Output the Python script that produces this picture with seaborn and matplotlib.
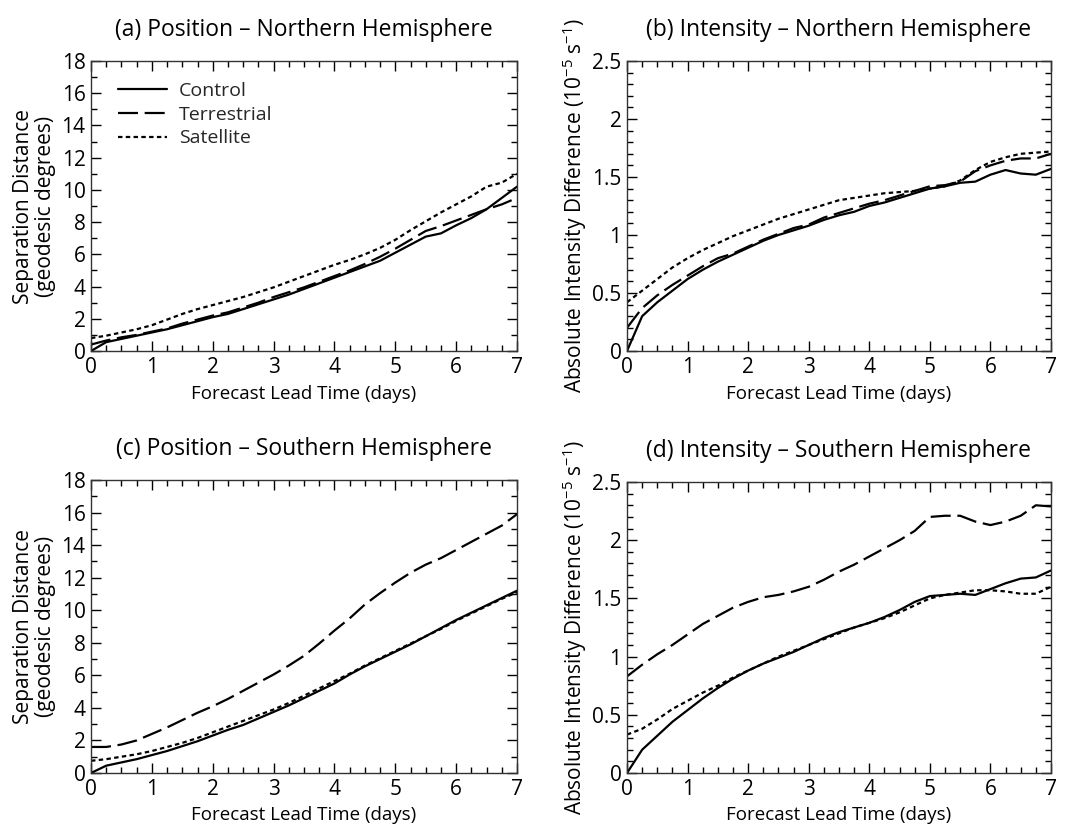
import numpy as np
import pandas as pd
import matplotlib
matplotlib.use("Agg")
import matplotlib.pyplot as plt
import seaborn as sns
from matplotlib.ticker import MultipleLocator

days = [i * 0.25 for i in range(29)]
series_names = ["Control", "Terrestrial", "Satellite"]

# (a) Position - Northern Hemisphere
pos_nh_control = [0, 0.55, 0.75, 0.95, 1.15, 1.35, 1.6, 1.85, 2.1, 2.3, 2.6, 2.9, 3.2, 3.5,
                  3.85, 4.2, 4.55, 4.9, 5.25, 5.6, 6.1, 6.6, 7.1, 7.3, 7.8, 8.25, 8.8, 9.5, 10.2]
pos_nh_terr = [0.4, 0.65, 0.85, 1.0, 1.2, 1.4, 1.7, 1.95, 2.2, 2.4, 2.7, 3.0, 3.35, 3.65,
               3.95, 4.3, 4.65, 5.0, 5.4, 5.85, 6.35, 6.9, 7.45, 7.75, 8.1, 8.45, 8.8, 9.1, 9.5]
pos_nh_sat = [0.8, 0.95, 1.15, 1.35, 1.6, 1.95, 2.3, 2.6, 2.85, 3.1, 3.35, 3.65, 3.95, 4.3,
              4.65, 5.0, 5.35, 5.65, 6.0, 6.4, 6.9, 7.5, 8.05, 8.6, 9.1, 9.6, 10.2, 10.45, 11.0]

# (b) Intensity - Northern Hemisphere
int_nh_control = [0, 0.3, 0.42, 0.52, 0.62, 0.70, 0.77, 0.83, 0.89, 0.95, 1.0, 1.04, 1.08, 1.13,
                  1.17, 1.20, 1.25, 1.28, 1.32, 1.36, 1.40, 1.42, 1.45, 1.46, 1.52, 1.56, 1.53, 1.52, 1.57]
int_nh_terr = [0.2, 0.37, 0.48, 0.57, 0.65, 0.73, 0.80, 0.84, 0.90, 0.96, 1.01, 1.06, 1.09, 1.15,
               1.19, 1.23, 1.27, 1.30, 1.34, 1.38, 1.42, 1.43, 1.46, 1.55, 1.60, 1.64, 1.66, 1.66, 1.70]
int_nh_sat = [0.42, 0.52, 0.62, 0.72, 0.80, 0.87, 0.93, 0.99, 1.04, 1.09, 1.14, 1.18, 1.22, 1.26,
              1.30, 1.32, 1.34, 1.36, 1.37, 1.38, 1.40, 1.42, 1.47, 1.56, 1.63, 1.67, 1.70, 1.71, 1.72]

# (c) Position - Southern Hemisphere
pos_sh_control = [0, 0.45, 0.65, 0.85, 1.1, 1.35, 1.65, 1.95, 2.3, 2.65, 2.95, 3.35, 3.75, 4.15,
                  4.6, 5.05, 5.5, 6.05, 6.55, 7.0, 7.45, 7.9, 8.4, 8.9, 9.4, 9.85, 10.3, 10.75, 11.2]
pos_sh_terr = [1.6, 1.6, 1.75, 2.0, 2.4, 2.8, 3.25, 3.7, 4.1, 4.55, 5.05, 5.55, 6.05, 6.6,
               7.2, 7.95, 8.75, 9.5, 10.35, 11.05, 11.7, 12.3, 12.8, 13.2, 13.7, 14.2, 14.7, 15.2, 15.9]
pos_sh_sat = [0.75, 0.85, 1.0, 1.15, 1.35, 1.6, 1.85, 2.15, 2.5, 2.85, 3.2, 3.55, 3.9, 4.3,
              4.75, 5.2, 5.65, 6.1, 6.6, 7.05, 7.5, 7.95, 8.4, 8.85, 9.35, 9.8, 10.25, 10.7, 11.1]

# (d) Intensity - Southern Hemisphere
int_sh_control = [0, 0.2, 0.32, 0.44, 0.54, 0.64, 0.73, 0.81, 0.88, 0.94, 0.99, 1.04, 1.10, 1.16,
                  1.21, 1.25, 1.29, 1.34, 1.40, 1.47, 1.52, 1.53, 1.54, 1.53, 1.58, 1.63, 1.67, 1.68, 1.74]
int_sh_terr = [0.83, 0.93, 1.02, 1.10, 1.19, 1.28, 1.35, 1.42, 1.47, 1.51, 1.53, 1.56, 1.60, 1.66,
               1.73, 1.79, 1.86, 1.93, 2.00, 2.08, 2.20, 2.21, 2.21, 2.16, 2.13, 2.16, 2.21, 2.30, 2.29]
int_sh_sat = [0.33, 0.38, 0.46, 0.55, 0.62, 0.69, 0.75, 0.82, 0.88, 0.94, 1.0, 1.05, 1.10, 1.15,
              1.20, 1.25, 1.29, 1.33, 1.38, 1.44, 1.50, 1.53, 1.55, 1.57, 1.57, 1.56, 1.54, 1.54, 1.60]

titles = ["(a) Position \u2013 Northern Hemisphere", "(b) Intensity \u2013 Northern Hemisphere",
          "(c) Position \u2013 Southern Hemisphere", "(d) Intensity \u2013 Southern Hemisphere"]
xlabel = "Forecast Lead Time (days)"
ylabel_pos = "Separation Distance\n(geodesic degrees)"
ylabel_int = "Absolute Intensity Difference (10$^{-5}$ s$^{-1}$)"

sns.set_theme(style="ticks")
plt.rcParams["font.family"] = ["Open Sans", "DejaVu Sans"]
plt.rcParams["mathtext.fontset"] = "custom"
plt.rcParams["mathtext.rm"] = "Open Sans"
plt.rcParams["mathtext.default"] = "regular"

def make_df(c, t, s):
    return pd.DataFrame({
        "day": days * 3,
        "value": c + t + s,
        "series": [n for n in series_names for _ in days],
    })

panels = [
    (make_df(pos_nh_control, pos_nh_terr, pos_nh_sat), 18, 2, 1, ylabel_pos, True),
    (make_df(int_nh_control, int_nh_terr, int_nh_sat), 2.5, 0.5, 0.1, ylabel_int, False),
    (make_df(pos_sh_control, pos_sh_terr, pos_sh_sat), 18, 2, 1, ylabel_pos, False),
    (make_df(int_sh_control, int_sh_terr, int_sh_sat), 2.5, 0.5, 0.1, ylabel_int, False),
]

dash_map = {"Control": "", "Terrestrial": (9, 3), "Satellite": (2, 1.5)}

fig = plt.figure(figsize=(10.66, 8.27), dpi=100)
W, H = 1066, 827
rects = [(91, 61, 517, 351), (627, 61, 1051, 351), (91, 480, 517, 773), (627, 482, 1051, 773)]

for i, (df, ymax, ymaj, ymin, ylab, legend) in enumerate(panels):
    l, t, r, b = rects[i]
    ax = fig.add_axes([l / W, 1 - b / H, (r - l) / W, (b - t) / H])
    sns.lineplot(data=df, x="day", y="value", style="series", dashes=dash_map,
                 color="black", linewidth=1.6, ax=ax, legend=legend, sort=False)
    ax.set_xlim(0, 7)
    ax.set_ylim(0, ymax)
    ax.xaxis.set_major_locator(MultipleLocator(1))
    ax.xaxis.set_minor_locator(MultipleLocator(0.25))
    ax.yaxis.set_major_locator(MultipleLocator(ymaj))
    ax.yaxis.set_minor_locator(MultipleLocator(ymin))
    ax.yaxis.set_major_formatter(matplotlib.ticker.FuncFormatter(lambda v, p: f"{v:g}"))
    ax.tick_params(which="both", direction="in", top=True, right=True, labelsize=15, pad=4,
                   color="black", labelcolor="black")
    ax.tick_params(which="major", length=7, width=1)
    ax.tick_params(which="minor", length=4, width=1)
    for sp in ax.spines.values():
        sp.set_linewidth(1.0)
        sp.set_color("#333333")
    ax.set_xlabel(xlabel, fontsize=13.5, labelpad=5, color="black")
    ax.set_ylabel(ylab, fontsize=15, labelpad=2 if ylab == ylabel_int else 4,
                  color="black", linespacing=1.05)
    ax.set_title(titles[i], fontsize=16.5, pad=18, color="black")
    if legend:
        leg = ax.legend(loc="upper left", frameon=False, fontsize=14, handlelength=2.5,
                        handletextpad=0.65, labelspacing=0.3, borderaxespad=0.0,
                        bbox_to_anchor=(0.045, 0.955))
        for h in leg.get_lines():
            h.set_linewidth(1.6)

fig.savefig("out.png", dpi=100)
